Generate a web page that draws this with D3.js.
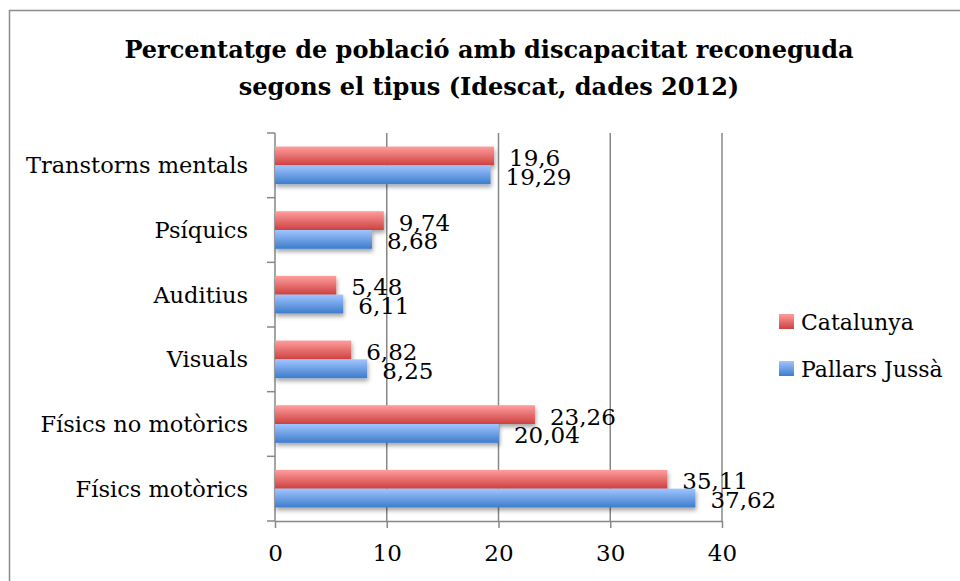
<!DOCTYPE html>
<html>
<head>
<meta charset="utf-8">
<script src="https://d3js.org/d3.v7.min.js"></script>
<style>
  body { margin: 0; background: #fff; }
  text { font-family: "DejaVu Serif", "Liberation Serif", serif; fill: #000; }
</style>
</head>
<body>
<div id="chart"></div>
<script>

var categories = ["Transtorns mentals", "Psíquics", "Auditius", "Visuals", "Físics no motòrics", "Físics motòrics"];
var seriesNames = ["Catalunya", "Pallars Jussà"];
var catalunya = [19.6, 9.74, 5.48, 6.82, 23.26, 35.11];
var pallars = [19.29, 8.68, 6.11, 8.25, 20.04, 37.62];
var xTicks = [0, 10, 20, 30, 40];

var svgWidth = 960;
var svgHeight = 581;

var margin = {
	top: 133,
	right: 238,
	bottom: 60,
	left: 275
};

var width = svgWidth - margin.left - margin.right;
var height = svgHeight - margin.top - margin.bottom;

var svg = d3.select("#chart")
	.append("svg")
	.attr("width", svgWidth)
	.attr("height", svgHeight);

// gradients + shadow
var defs = svg.append("defs");

function addGradient(id, top, bottom) {
	var g = defs.append("linearGradient")
		.attr("id", id)
		.attr("x1", 0).attr("y1", 0)
		.attr("x2", 0).attr("y2", 1);
	g.append("stop").attr("offset", "0%").attr("stop-color", top);
	g.append("stop").attr("offset", "100%").attr("stop-color", bottom);
}
addGradient("gradRed", "#ff9e9d", "#cd4140");
addGradient("gradBlue", "#a0c5ff", "#3d7ccc");

var shadow = defs.append("filter")
	.attr("id", "shadow")
	.attr("x", "-10%").attr("y", "-30%")
	.attr("width", "130%").attr("height", "180%");
shadow.append("feDropShadow")
	.attr("dx", 1)
	.attr("dy", 3)
	.attr("stdDeviation", 2)
	.attr("flood-color", "#000")
	.attr("flood-opacity", 0.35);

// outer border
svg.append("rect")
	.attr("x", 9.5)
	.attr("y", 10.5)
	.attr("width", 1000)
	.attr("height", 1000)
	.attr("fill", "none")
	.attr("stroke", "#8c8c8c")
	.attr("stroke-width", 1.5);

// title
var title = svg.append("text")
	.attr("text-anchor", "middle")
	.attr("font-weight", "bold")
	.attr("font-size", 24);
title.append("tspan").attr("x", 489).attr("y", 58).text("Percentatge de població amb discapacitat reconeguda");
title.append("tspan").attr("x", 489).attr("y", 95).text("segons el tipus (Idescat, dades 2012)");

var chartGroup = svg.append("g")
	.attr("transform", `translate(${margin.left}, ${margin.top})`);

var xLinearScale = d3.scaleLinear()
	.domain([0, 40])
	.range([0, 447]);

var yBand = d3.scaleBand()
	.domain(categories)
	.range([0, height]);

var ySub = d3.scaleBand()
	.domain(seriesNames)
	.range([0, yBand.bandwidth()])
	.paddingOuter(0.72)
	.paddingInner(0);

// vertical gridlines
chartGroup.append("g")
	.selectAll("line")
	.data(xTicks.slice(1))
	.enter()
	.append("line")
	.attr("x1", d => xLinearScale(d))
	.attr("x2", d => xLinearScale(d))
	.attr("y1", 0)
	.attr("y2", height)
	.attr("stroke", "#878787")
	.attr("stroke-width", 1.5);

// x axis
var bottomAxis = d3.axisBottom(xLinearScale)
	.tickValues(xTicks)
	.tickSize(7)
	.tickSizeOuter(0)
	.tickPadding(17)
	.tickFormat(d3.format("d"));

var xAxis = chartGroup.append("g")
	.attr("transform", `translate(0, ${height})`)
	.call(bottomAxis);

xAxis.selectAll("path, line")
	.attr("stroke", "#878787")
	.attr("stroke-width", 1.5);
xAxis.selectAll("text")
	.attr("font-size", 23)
	.style("font-family", "DejaVu Serif, serif");

// y axis with ticks on category boundaries
chartGroup.append("line")
	.attr("x1", 0).attr("x2", 0)
	.attr("y1", 0).attr("y2", height)
	.attr("stroke", "#878787")
	.attr("stroke-width", 1.5);

chartGroup.append("g")
	.selectAll("line")
	.data(d3.range(categories.length + 1))
	.enter()
	.append("line")
	.attr("x1", -8)
	.attr("x2", 0)
	.attr("y1", i => i * yBand.step())
	.attr("y2", i => i * yBand.step())
	.attr("stroke", "#878787")
	.attr("stroke-width", 1.5);

chartGroup.append("g")
	.selectAll("text")
	.data(categories)
	.enter()
	.append("text")
	.attr("x", -27)
	.attr("y", d => yBand(d) + yBand.bandwidth() / 2)
	.attr("dy", "0.35em")
	.attr("text-anchor", "end")
	.attr("font-size", 22.5)
	.text(d => d);

// bars
var fmt = d3.formatLocale({ decimal: ",", thousands: ".", grouping: [3], currency: ["", "€"] }).format("~g");

var series = [
	{ name: seriesNames[0], values: catalunya, fill: "url(#gradRed)" },
	{ name: seriesNames[1], values: pallars, fill: "url(#gradBlue)" }
];

series.forEach(function(s) {
	var rows = categories.map((c, i) => ({ cat: c, value: s.values[i] }));

	chartGroup.append("g")
		.attr("filter", "url(#shadow)")
		.selectAll("rect")
		.data(rows)
		.enter()
		.append("rect")
		.attr("x", 0)
		.attr("y", d => yBand(d.cat) + ySub(s.name))
		.attr("width", d => xLinearScale(d.value))
		.attr("height", ySub.bandwidth())
		.attr("fill", s.fill);

	chartGroup.append("g")
		.selectAll("text")
		.data(rows)
		.enter()
		.append("text")
		.attr("x", d => xLinearScale(d.value) + 15)
		.attr("y", d => yBand(d.cat) + ySub(s.name) + ySub.bandwidth() / 2 + 10)
		.attr("font-size", 23)
		.text(d => fmt(d.value));
});

// legend
var legend = svg.append("g")
	.attr("transform", "translate(779, 314)");

var legendItems = legend.selectAll("g")
	.data(series)
	.enter()
	.append("g")
	.attr("transform", (d, i) => `translate(0, ${i * 47})`);

legendItems.append("rect")
	.attr("width", 15)
	.attr("height", 15)
	.attr("fill", d => d.fill);

legendItems.append("text")
	.attr("x", 22)
	.attr("y", 16)
	.attr("font-size", 22)
	.text(d => d.name);

</script>
</body>
</html>
